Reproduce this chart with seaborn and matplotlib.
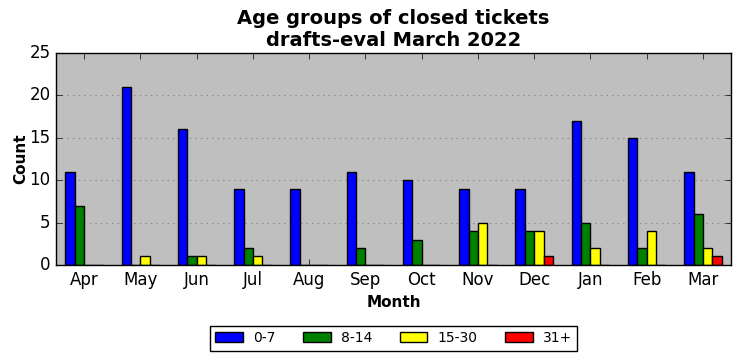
import matplotlib
matplotlib.use("Agg")
import matplotlib.pyplot as plt
import numpy as np
import pandas as pd
import seaborn as sns

months = ["Apr", "May", "Jun", "Jul", "Aug", "Sep", "Oct", "Nov", "Dec", "Jan", "Feb", "Mar"]
age_groups = ["0-7", "8-14", "15-30", "31+"]

counts_0_7 = [11, 21, 16, 9, 9, 11, 10, 9, 9, 17, 15, 11]
counts_8_14 = [7, 0, 1, 2, 0, 2, 3, 4, 4, 5, 2, 6]
counts_15_30 = [0, 1, 1, 1, 0, 0, 0, 5, 4, 2, 4, 2]
counts_31_plus = [0, 0, 0, 0, 0, 0, 0, 0, 1, 0, 0, 1]

group_colors = {"0-7": "blue", "8-14": "green", "15-30": "yellow", "31+": "red"}

df = pd.DataFrame({
    "Month": months * 4,
    "Age": [g for g in age_groups for _ in months],
    "Count": counts_0_7 + counts_8_14 + counts_15_30 + counts_31_plus,
})

plt.style.use("classic")
plt.rcParams["font.family"] = ["DejaVu Sans"]

fig = plt.figure(figsize=(7.41, 3.61), dpi=100)
ax = fig.add_axes([0.0756, 0.266, 0.911, 0.587])
ax.set_facecolor("#bfbfbf")

sns.barplot(
    data=df, x="Month", y="Count", hue="Age",
    order=months, hue_order=age_groups,
    palette=group_colors, width=2 / 3, gap=0,
    edgecolor="black", linewidth=1, saturation=1,
    ax=ax,
)

ax.set_xlim(-0.5, len(months) - 0.5)
ax.set_ylim(0, 25)
ax.set_yticks(np.arange(0, 26, 5))
ax.yaxis.grid(True, linestyle=":", color="#888888", linewidth=0.8)
ax.xaxis.grid(False)
ax.set_axisbelow(True)

ax.set_xlabel("Month", fontweight="bold", fontsize=11)
ax.set_ylabel("Count", fontweight="bold", fontsize=11, labelpad=1)
ax.set_title("Age groups of closed tickets\ndrafts-eval March 2022",
             fontweight="bold", fontsize=14)
ax.tick_params(labelsize=12)

ax.legend(loc="center", bbox_to_anchor=(0.5, -0.345), ncol=4,
          fontsize=10, frameon=True, fancybox=False,
          handlelength=2, handletextpad=0.7, columnspacing=2)

fig.savefig("out.png", dpi=100)
